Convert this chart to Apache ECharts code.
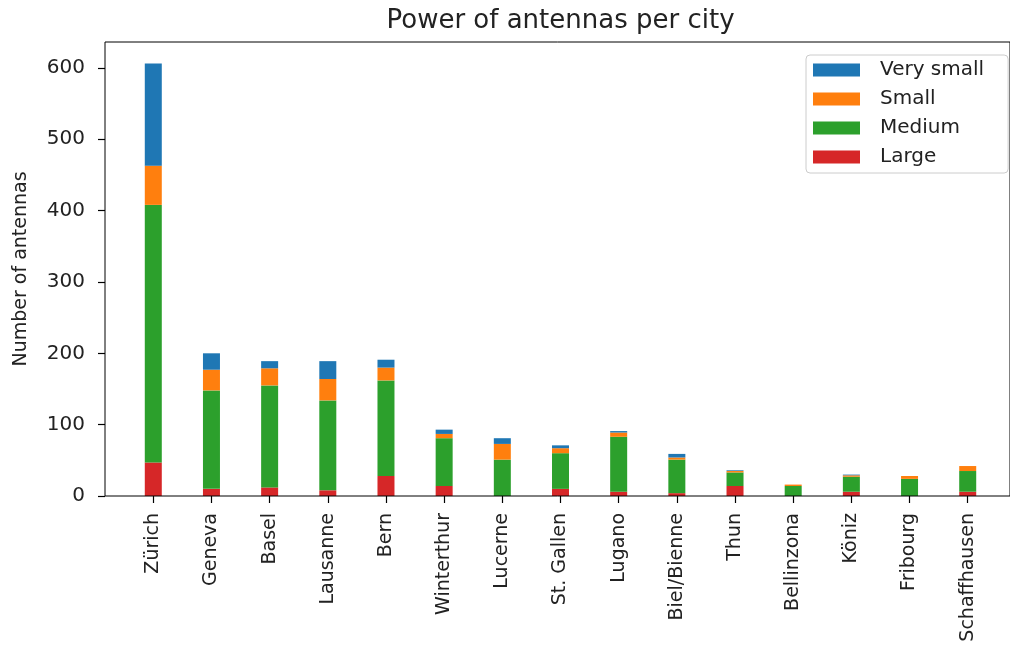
<!DOCTYPE html>
<html>
<head>
<meta charset="utf-8">
<title>Power of antennas per city</title>
<script src="https://cdn.jsdelivr.net/npm/echarts@6/dist/echarts.min.js"></script>
<style>
  html, body { margin: 0; padding: 0; background: #fff; }
  #chart { width: 1010px; height: 645px; }
</style>
</head>
<body>
<div id="chart"></div>
<script>
// Antenna counts per city, split by power class
const cities = ['Zürich', 'Geneva', 'Basel', 'Lausanne', 'Bern', 'Winterthur', 'Lucerne',
  'St. Gallen', 'Lugano', 'Biel/Bienne', 'Thun', 'Bellinzona', 'Köniz', 'Fribourg', 'Schaffhausen'];
const large     = [47, 10, 12, 8, 28, 14, 0, 10, 6, 4, 14, 0, 6, 0, 6];
const medium    = [361, 138, 143, 126, 134, 67, 51, 50, 77, 47, 19, 14, 21, 24, 29];
const small     = [55, 29, 24, 30, 18, 6, 22, 7, 6, 3, 2, 2, 2, 4, 7];
const verySmall = [143, 23, 10, 25, 11, 6, 8, 4, 2, 5, 1, 0, 1, 0, 0];
const yTicks = [0, 100, 200, 300, 400, 500, 600];

const colors = { verySmall: '#1f77b4', small: '#ff7f0e', medium: '#2ca02c', large: '#d62728' };
const textColor = '#222';
const font = 'DejaVu Sans';

const totals = cities.map((_, i) => large[i] + medium[i] + small[i] + verySmall[i]);
const yMax = Math.max(...totals) * 1.05;

// axes frame box and the (narrower) band area holding the categories
const frame = { left: 105, right: -6, top: 42, bottom: 149 };
const band = { left: 124.2, right: 13.2, top: 42, bottom: 149 };
const yAxisOffset = band.left - frame.left;

function barSeries(name, arr, color) {
  return {
    name: name,
    type: 'bar',
    stack: 'power',
    barWidth: 17,
    data: arr,
    itemStyle: { color: color },
    emphasis: { disabled: true }
  };
}

const chart = echarts.init(document.getElementById('chart'), null, { renderer: 'canvas' });
chart.setOption({
  animation: false,
  backgroundColor: '#fff',
  title: {
    text: 'Power of antennas per city',
    left: 560.5,
    textAlign: 'center',
    top: 8,
    padding: 0,
    textStyle: { fontFamily: font, fontSize: 26, fontWeight: 'normal', color: textColor }
  },
  legend: {
    orient: 'vertical',
    left: 806,
    top: 55,
    data: ['Very small', 'Small', 'Medium', 'Large'],
    itemWidth: 47,
    itemHeight: 13,
    itemGap: 9,
    padding: [5, 24, 6, 7],
    borderColor: '#cccccc',
    borderWidth: 1,
    borderRadius: 4,
    backgroundColor: 'rgba(255,255,255,0.8)',
    icon: 'rect',
    textStyle: {
      fontFamily: font, fontSize: 20, color: textColor,
      padding: [0, 0, 0, 15]
    }
  },
  grid: [
    Object.assign({ show: true, borderColor: 'transparent', backgroundColor: 'transparent' }, band),
    Object.assign({ show: true, borderColor: '#000', borderWidth: 1, backgroundColor: 'transparent', z: 3 }, frame)
  ],
  xAxis: [
    {
      type: 'category',
      gridIndex: 0,
      data: cities,
      boundaryGap: true,
      axisLine: { show: false },
      splitLine: { show: false },
      axisTick: {
        show: true, length: 7, alignWithLabel: true, interval: 0,
        lineStyle: { color: '#000', width: 1.2 }
      },
      axisLabel: {
        interval: 0,
        rotate: 90,
        margin: 17,
        fontFamily: font,
        fontSize: 19,
        color: textColor
      }
    },
    { type: 'value', gridIndex: 1, show: false, min: 0, max: 1 }
  ],
  yAxis: [
    {
      type: 'value',
      gridIndex: 0,
      min: 0,
      max: yMax,
      offset: yAxisOffset,
      name: 'Number of antennas',
      nameLocation: 'middle',
      nameRotate: 90,
      nameGap: 74,
      nameTextStyle: { fontFamily: font, fontSize: 19, color: textColor },
      splitLine: { show: false },
      axisLine: { show: false },
      axisTick: {
        show: true, length: 7, inside: false,
        customValues: yTicks,
        lineStyle: { color: '#000', width: 1.2 }
      },
      axisLabel: {
        margin: 20,
        customValues: yTicks,
        fontFamily: font,
        fontSize: 20,
        color: textColor
      }
    },
    { type: 'value', gridIndex: 1, show: false, min: 0, max: 1 }
  ],
  series: [
    barSeries('Large', large, colors.large),
    barSeries('Medium', medium, colors.medium),
    barSeries('Small', small, colors.small),
    barSeries('Very small', verySmall, colors.verySmall)
  ]
});
</script>
</body>
</html>
